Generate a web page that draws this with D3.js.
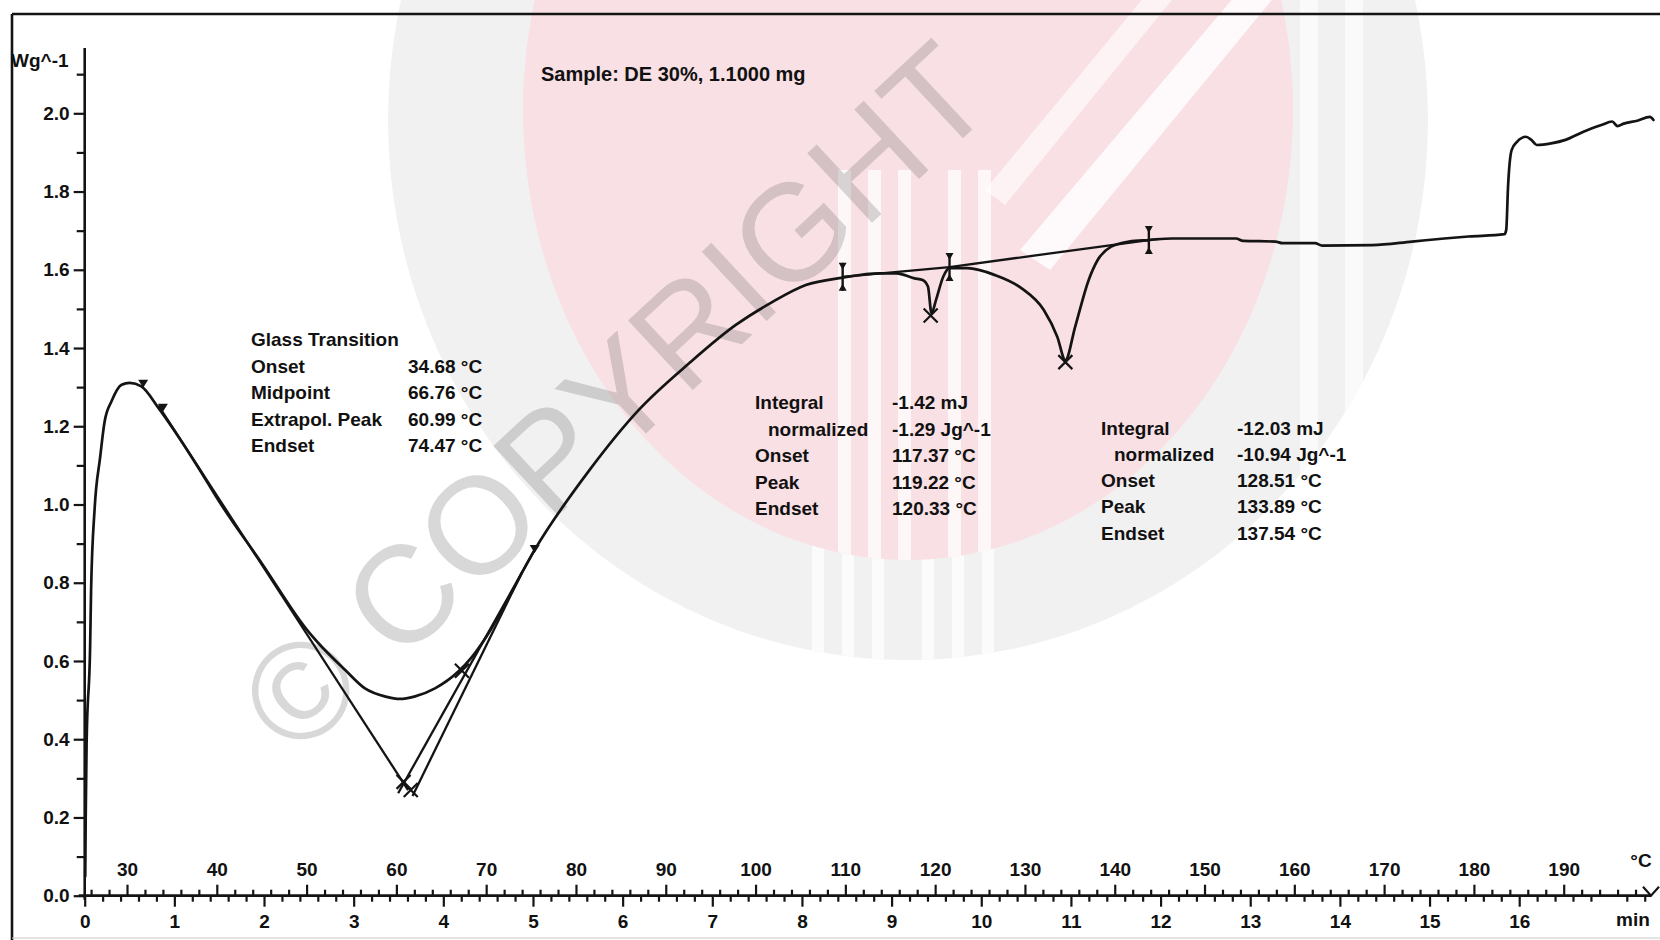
<!DOCTYPE html>
<html><head><meta charset="utf-8">
<script src="https://cdn.jsdelivr.net/npm/d3@7"></script>
<style>
html,body{margin:0;padding:0;background:#fff;}
svg{display:block;}
text{font-family:"Liberation Sans",Arial,sans-serif;font-weight:700;fill:#111;}
</style></head><body>
<svg id="c" width="1660" height="940"></svg>
<script>
// ---------------- data ----------------
const curveT = [25.35,25.4,25.5,25.9,26.0,26.4,27.0,27.5,28.3,29.4,30.3,31.6,33.5,35.3,37.9,40.2,45.0,50.2,51.3,54.3,56.5,58.8,60.4,62.0,64.3,66.9,68.4,70.5,72.0,75.4,81.5,87.0,92.6,97.8,101.9,105.6,109.7,113.7,115.7,117.7,118.6,119.2,119.6,120.1,120.9,121.6,123.6,126.6,129.6,132.1,133.6,134.5,135.6,137.1,138.1,139.6,141.6,143.8,146.4,148.5,153.5,154.3,157.9,158.7,162.3,163.1,168.7,173.1,176.7,179.4,183.4,183.6,183.8,184.2,184.8,185.8,186.4,187.0,188.6,190.2,192.2,194.2,195.4,196.0,196.6,198.2,199.6,200.0];
const curveV = [0.05,0.2,0.389,0.644,0.781,0.991,1.119,1.211,1.265,1.306,1.311,1.302,1.247,1.188,1.096,1.010,0.85,0.675,0.646,0.577,0.530,0.509,0.503,0.509,0.530,0.573,0.610,0.680,0.741,0.884,1.088,1.242,1.361,1.459,1.518,1.561,1.580,1.591,1.591,1.578,1.574,1.557,1.489,1.523,1.582,1.604,1.604,1.587,1.553,1.497,1.429,1.369,1.455,1.574,1.625,1.659,1.672,1.676,1.680,1.680,1.680,1.674,1.672,1.668,1.668,1.662,1.663,1.672,1.680,1.685,1.691,1.702,1.812,1.906,1.927,1.940,1.932,1.919,1.923,1.932,1.953,1.970,1.979,1.967,1.973,1.981,1.991,1.983];

// evaluation construction lines (start/end temperature and value)
const segT = [[33.5,61.3],[60.2,75.4],[61.8,74.0],[109.7,121.6],[121.6,143.8]];
const segV = [[1.253,0.27],[0.262,0.884],[0.255,0.827],[1.582,1.607],[1.607,1.676]];
// X marks
const crossT = [60.8,61.6,67.3,119.5,134.5];
const crossV = [0.291,0.270,0.575,1.483,1.364];
// integration limit cursors
const cursorT = [109.7,121.6,143.8];
const cursorV = [1.582,1.607,1.676];
// glass transition limit flags
const flagT = [31.8,34.0,75.4];
const flagV = [1.306,1.245,0.884];

const yTickLabels = [0.0,0.2,0.4,0.6,0.8,1.0,1.2,1.4,1.6,1.8,2.0];
const tempTickLabels = [30,40,50,60,70,80,90,100,110,120,130,140,150,160,170,180,190];
const timeTickLabels = [0,1,2,3,4,5,6,7,8,9,10,11,12,13,14,15,16];

const sampleText = "Sample: DE 30%, 1.1000 mg";
const yUnit = "Wg^-1";
const tempUnit = "°C";
const timeUnit = "min";

const glassLabels = ["Glass Transition","Onset","Midpoint","Extrapol. Peak","Endset"];
const glassValues = ["","34.68 °C","66.76 °C","60.99 °C","74.47 °C"];
const peak1Labels = ["Integral","normalized","Onset","Peak","Endset"];
const peak1Values = ["-1.42 mJ","-1.29 Jg^-1","117.37 °C","119.22 °C","120.33 °C"];
const peak2Labels = ["Integral","normalized","Onset","Peak","Endset"];
const peak2Values = ["-12.03 mJ","-10.94 Jg^-1","128.51 °C","133.89 °C","137.54 °C"];
const watermarkText = "© COPYRIGHT";

// ---------------- scales ----------------
const xTemp = d3.scaleLinear().domain([30,190]).range([127,1563.7]);
const xTime = d3.scaleLinear().domain([0,16]).range([84.7,1519.2]);
const y = d3.scaleLinear().domain([0,2]).range([895.7,113.3]);
const X0 = xTime(0), Y0 = y(0);

const svg = d3.select("#c");
svg.append("rect").attr("width",1660).attr("height",940).attr("fill","#fff");

// ---------------- watermark ----------------
const wm = svg.append("g");
const defs = svg.append("defs");
defs.append("clipPath").attr("id","pinkclip").append("ellipse")
  .attr("cx",908).attr("cy",110).attr("rx",385).attr("ry",450);
defs.append("clipPath").attr("id","outerclip").append("ellipse")
  .attr("cx",908).attr("cy",120).attr("rx",520).attr("ry",540);
wm.append("ellipse").attr("cx",908).attr("cy",120).attr("rx",520).attr("ry",540).attr("fill","#f1f1f1");
const outer = wm.append("g").attr("clip-path","url(#outerclip)");
[1300,1345].forEach(sx=>outer.append("rect").attr("x",sx).attr("y",0).attr("width",18).attr("height",520).attr("fill","#fafafa"));
[812,842,872,922,952,982].forEach(sx=>{
  outer.append("rect").attr("x",sx).attr("y",520).attr("width",12).attr("height",160).attr("fill","#fbfbfb");
});
wm.append("ellipse").attr("cx",908).attr("cy",110).attr("rx",385).attr("ry",450).attr("fill","#f9e0e4");
const stripes = wm.append("g").attr("clip-path","url(#pinkclip)");
[838,868,898,948,978].forEach(sx=>{
  stripes.append("rect").attr("x",sx).attr("y",170).attr("width",13).attr("height",420).attr("fill","#fff").attr("opacity",0.75);
});
stripes.append("path").attr("d","M1280,-10 L1240,-10 L1020,250 L1050,270 Z").attr("fill","#fff").attr("opacity",0.8);
stripes.append("path").attr("d","M1180,-10 L1150,-10 L985,190 L1005,205 Z").attr("fill","#fff").attr("opacity",0.6);
wm.append("text").text(watermarkText)
  .attr("transform","translate(296,760) rotate(-43)")
  .attr("font-size",138)
  .style("font-weight","400").style("fill","rgba(105,105,105,0.26)");

// ---------------- frame ----------------
const ink = "#141414";
svg.append("line").attr("x1",12).attr("x2",12).attr("y1",14).attr("y2",940).attr("stroke",ink).attr("stroke-width",2.6);
svg.append("line").attr("x1",12).attr("x2",1660).attr("y1",14).attr("y2",14).attr("stroke",ink).attr("stroke-width",2.6);
svg.append("line").attr("x1",12).attr("x2",1660).attr("y1",938).attr("y2",938).attr("stroke","#c8c8c8").attr("stroke-width",1);

// ---------------- y axis ----------------
const yAxisG = svg.append("g").attr("transform",`translate(${X0},0)`);
yAxisG.call(d3.axisLeft(y).tickValues(d3.range(1,22,2).map(d=>d/10)).tickSize(8).tickFormat(""));
yAxisG.call(g=>g.select(".domain").remove());
const yMaj = svg.append("g").attr("transform",`translate(${X0},0)`)
  .call(d3.axisLeft(y).tickValues(yTickLabels).tickSize(11).tickPadding(4).tickFormat(d3.format(".1f")));
yMaj.select(".domain").remove();
yMaj.selectAll("text").attr("font-size",19).attr("font-family",null);
svg.append("line").attr("x1",X0).attr("x2",X0).attr("y1",48).attr("y2",Y0+4).attr("stroke",ink).attr("stroke-width",2.6);
svg.append("text").text(yUnit).attr("x",11).attr("y",67).attr("font-size",19);

// ---------------- x axes ----------------
const tMinor = d3.range(26,199,2).filter(d=>d%10!==0);
const tG1 = svg.append("g").attr("transform",`translate(0,${Y0})`)
  .call(d3.axisTop(xTemp).tickValues(tMinor).tickSize(6).tickFormat(""));
tG1.select(".domain").remove();
const tG2 = svg.append("g").attr("transform",`translate(0,${Y0})`)
  .call(d3.axisTop(xTemp).tickValues(tempTickLabels).tickSize(11).tickPadding(9));
tG2.select(".domain").remove();
tG2.selectAll("text").attr("font-size",19).attr("font-family",null);

const sMinor = d3.range(1,88).map(d=>d/5).filter(d=>Math.abs(d-Math.round(d))>0.01);
const sG1 = svg.append("g").attr("transform",`translate(0,${Y0})`)
  .call(d3.axisBottom(xTime).tickValues(sMinor).tickSize(6).tickFormat(""));
sG1.select(".domain").remove();
const sG2 = svg.append("g").attr("transform",`translate(0,${Y0})`)
  .call(d3.axisBottom(xTime).tickValues(timeTickLabels).tickSize(11).tickPadding(8));
sG2.select(".domain").remove();
sG2.selectAll("text").attr("font-size",19).attr("font-family",null);
svg.selectAll(".tick line").attr("stroke",ink).attr("stroke-width",2.2);

svg.append("line").attr("x1",X0-6).attr("x2",1651).attr("y1",Y0).attr("y2",Y0).attr("stroke",ink).attr("stroke-width",2.8);
svg.append("path").attr("d",`M1643,${Y0-9} L1651,${Y0} L1659,${Y0-9}`).attr("fill","none").attr("stroke",ink).attr("stroke-width",2.2);
svg.append("text").text(tempUnit).attr("x",1641).attr("y",867).attr("text-anchor","middle").attr("font-size",19);
svg.append("text").text(timeUnit).attr("x",1633).attr("y",926).attr("text-anchor","middle").attr("font-size",19);

// ---------------- curve ----------------
const pts = curveT.map((t,i)=>[xTemp(t), y(curveV[i])]);
svg.append("path").attr("d",d3.line().curve(d3.curveMonotoneX)(pts))
  .attr("fill","none").attr("stroke",ink).attr("stroke-width",2.7).attr("stroke-linejoin","round").attr("stroke-linecap","round");

// construction lines
segT.forEach((s,i)=>{
  svg.append("line").attr("x1",xTemp(s[0])).attr("x2",xTemp(s[1]))
    .attr("y1",y(segV[i][0])).attr("y2",y(segV[i][1]))
    .attr("stroke",ink).attr("stroke-width",2.3);
});
// X marks
crossT.forEach((t,i)=>{
  const cx = xTemp(t), cy = y(crossV[i]), r = 7;
  svg.append("path").attr("d",`M${cx-r},${cy-r}L${cx+r},${cy+r}M${cx-r},${cy+r}L${cx+r},${cy-r}`)
    .attr("stroke",ink).attr("stroke-width",2.2);
});
// cursors
cursorT.forEach((t,i)=>{
  const cx = xTemp(t), cy = y(cursorV[i]);
  svg.append("line").attr("x1",cx).attr("x2",cx).attr("y1",cy-14).attr("y2",cy+14).attr("stroke",ink).attr("stroke-width",2.4);
  svg.append("path").attr("d",`M${cx-4},${cy-14}L${cx+4},${cy-14}L${cx},${cy-7}Z M${cx-4},${cy+14}L${cx+4},${cy+14}L${cx},${cy+7}Z`).attr("fill",ink);
});
// flags
flagT.forEach((t,i)=>{
  const cx = xTemp(t), cy = y(flagV[i]);
  svg.append("path").attr("d",`M${cx-5},${cy-5}L${cx+5},${cy-5}L${cx},${cy+3}Z`).attr("fill",ink);
});

// ---------------- annotation texts ----------------
svg.append("text").text(sampleText).attr("x",541).attr("y",81).attr("font-size",20);

function block(labels, values, xl, xv, yc, dy, indent){
  labels.forEach((l,i)=>{
    svg.append("text").text(l).attr("x",xl + (indent && i===1 ? 13 : 0)).attr("y",yc + i*dy + 7).attr("font-size",19);
    if (values[i]) svg.append("text").text(values[i]).attr("x",xv).attr("y",yc + i*dy + 7).attr("font-size",19);
  });
}
block(glassLabels, glassValues, 251, 408, 339, 26.5, false);
block(peak1Labels, peak1Values, 755, 892, 402.3, 26.5, true);
block(peak2Labels, peak2Values, 1101, 1237, 427.7, 26.2, true);
</script>
</body></html>
